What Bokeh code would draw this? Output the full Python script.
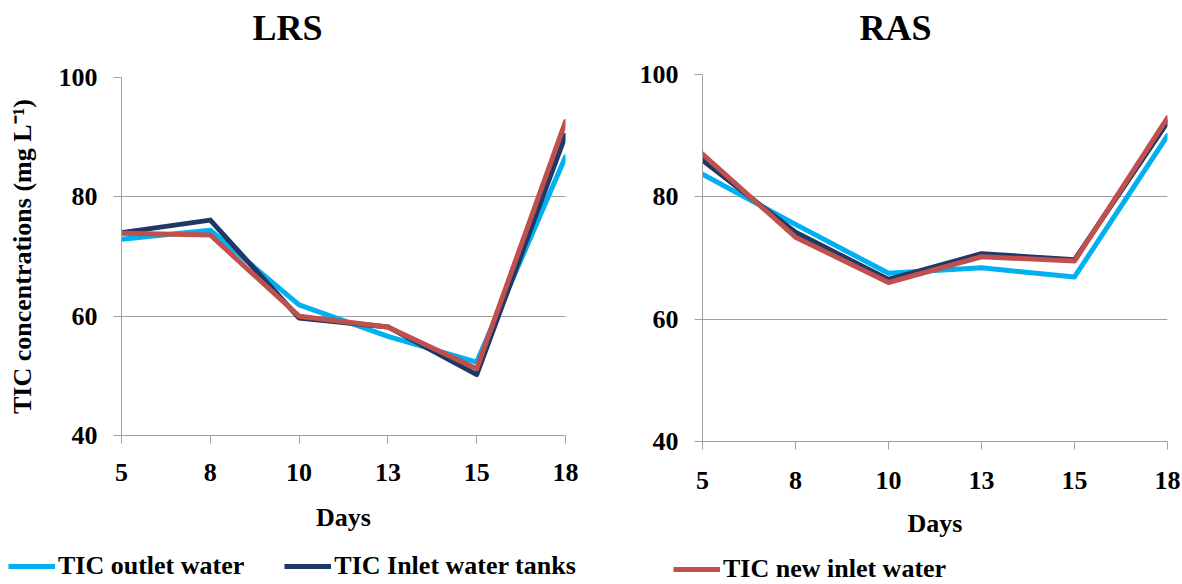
from bokeh.plotting import figure
from bokeh.models import FixedTicker, Range1d, Legend, LegendItem, Title
from bokeh.layouts import row, column
from bokeh.embed import file_html
from bokeh.resources import INLINE

days = ["5", "8", "10", "13", "15", "18"]
y_ticks = [40, 60, 80, 100]

lrs_outlet = [72.9, 74.4, 61.9, 56.6, 52.3, 86.7]
lrs_inlet_tanks = [74.0, 76.1, 59.7, 58.2, 50.2, 90.3]
lrs_new_inlet = [73.9, 73.6, 60.0, 58.2, 51.2, 92.6]

ras_outlet = [83.7, 75.5, 67.5, 68.4, 66.9, 90.0]
ras_inlet_tanks = [86.0, 74.2, 66.5, 70.7, 69.7, 92.2]
ras_new_inlet = [87.0, 73.4, 66.0, 70.2, 69.5, 92.9]

series_names = ["TIC outlet water", "TIC Inlet water tanks", "TIC new inlet water"]
colors = ["#00B0F0", "#1F3864", "#C0504D"]

FONT = "Liberation Serif"
GRAY = "#A0A0A0"
xs = list(range(len(days)))


def make_panel(title, data, width, height, bl, br, bt, bb, title_offset, spacer_standoff,
               ylabel, x_standoff, xlab_standoff):
    p = figure(width=width, height=height, output_backend="svg", toolbar_location=None,
               title=None,
               x_range=Range1d(0, len(days) - 1), y_range=Range1d(40, 100),
               min_border_left=bl, min_border_right=br, min_border_top=bt,
               min_border_bottom=bb)
    p.outline_line_color = None
    p.background_fill_color = "white"
    p.border_fill_color = "white"

    spacer = Title(text=" ", text_font_size="2px", standoff=spacer_standoff)
    p.add_layout(spacer, "above")
    t = Title(text=title, text_font=FONT, text_font_style="bold", text_font_size="36px",
              text_color="black", align="left", offset=title_offset, standoff=0,
              vertical_align="bottom")
    p.add_layout(t, "above")

    p.xaxis.ticker = FixedTicker(ticks=xs)
    p.xaxis.major_label_overrides = {i: d for i, d in enumerate(days)}
    p.yaxis.ticker = FixedTicker(ticks=y_ticks)
    for ax in (p.xaxis[0], p.yaxis[0]):
        ax.axis_line_color = GRAY
        ax.major_tick_line_color = GRAY
        ax.minor_tick_line_color = None
        ax.major_tick_in = 0
        ax.major_tick_out = 8
        ax.major_label_text_font = FONT
        ax.major_label_text_font_style = "bold"
        ax.major_label_text_font_size = "26px"
        ax.major_label_text_color = "black"
        ax.axis_label_text_font = FONT
        ax.axis_label_text_font_style = "bold"
        ax.axis_label_text_font_size = "26px"
        ax.axis_label_text_color = "black"
    p.xaxis.axis_label = "Days"
    p.xaxis.major_label_standoff = x_standoff
    p.xaxis.axis_label_standoff = xlab_standoff
    p.yaxis.major_label_standoff = 16
    if ylabel:
        p.yaxis.axis_label = ylabel
        p.yaxis.axis_label_standoff = 19

    p.xgrid.grid_line_color = None
    p.ygrid.grid_line_color = GRAY
    p.ygrid.grid_line_width = 1

    for vals, c in zip(data, colors):
        p.line(xs, vals, line_color=c, line_width=5, line_join="round", line_cap="round")
    return p


def legend_strip(width, height, names, series, cols, loc):
    # legend-only strip: the sample lines lie outside the visible range
    f = figure(width=width, height=height, output_backend="svg", toolbar_location=None,
               x_axis_type=None, y_axis_type=None, x_range=Range1d(0, 1), y_range=Range1d(0, 1),
               min_border=0, min_border_left=0, min_border_right=0,
               min_border_top=0, min_border_bottom=0)
    f.outline_line_color = None
    f.xgrid.visible = False
    f.ygrid.visible = False
    f.background_fill_color = "white"
    f.border_fill_color = "white"
    items = []
    for n, vals, c in zip(names, series, cols):
        r = f.line(xs, vals, line_color=c, line_width=5)
        items.append(LegendItem(label=n, renderers=[r]))
    lg = Legend(items=items, location=loc, orientation="horizontal")
    lg.label_text_font = FONT
    lg.label_text_font_style = "bold"
    lg.label_text_font_size = "26px"
    lg.label_text_color = "black"
    lg.glyph_width = 47
    lg.label_standoff = 3
    lg.spacing = 40
    lg.padding = 0
    lg.margin = 0
    lg.border_line_color = None
    lg.background_fill_alpha = 0
    f.add_layout(lg, "center")
    return f


p1 = make_panel("LRS", [lrs_outlet, lrs_inlet_tanks, lrs_new_inlet],
                636, 540, 121, 71, 77, 105, 131, 26,
                "TIC concentrations (mg L\u207b\u00b9)", 20, 19)
p2 = make_panel("RAS", [ras_outlet, ras_inlet_tanks, ras_new_inlet],
                546, 546, 66, 15, 74, 105, 157, 23,
                None, 22, 17)

lg1 = legend_strip(636, 44, series_names[:2], [lrs_outlet, lrs_inlet_tanks], colors[:2], (8, 3))
lg2 = legend_strip(546, 38, series_names[2:], [ras_new_inlet], colors[2:], (37, 0))

layout = row(column(p1, row(lg1)), column(p2, row(lg2)))
open("out.html", "w").write(file_html(layout, INLINE))
